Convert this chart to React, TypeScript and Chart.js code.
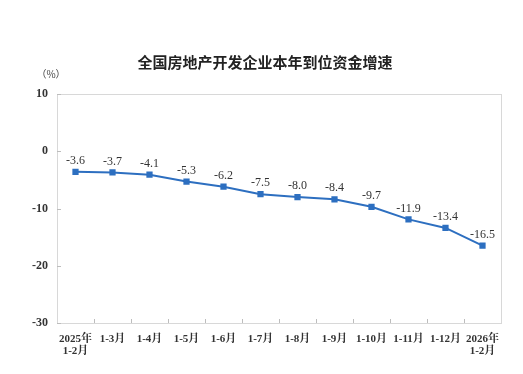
import React, { useEffect, useRef } from "react";
import { Chart, registerables } from "chart.js";

Chart.register(...registerables);

const categories: (string | string[])[] = [
  ["2025年", "1-2月"],
  "1-3月",
  "1-4月",
  "1-5月",
  "1-6月",
  "1-7月",
  "1-8月",
  "1-9月",
  "1-10月",
  "1-11月",
  "1-12月",
  ["2026年", "1-2月"],
];
const growth = [-3.6, -3.7, -4.1, -5.3, -6.2, -7.5, -8.0, -8.4, -9.7, -11.9, -13.4, -16.5];
const yTicks = [10, 0, -10, -20, -30];
const titleText = "全国房地产开发企业本年到位资金增速";
const unitText = "（%）";

const W = 523;
const H = 374;
const LINE = "#2d6fc0";
const SERIF = "'Liberation Serif', 'Noto Serif CJK SC', 'Noto Sans CJK SC', serif";

const decorPlugin = {
  id: "decor",
  afterDraw(chart: any) {
    const { ctx, chartArea: a, scales } = chart;
    ctx.save();
    // title
    ctx.fillStyle = "#222";
    ctx.font = "bold 15px 'Noto Sans CJK SC'";
    ctx.textAlign = "center";
    ctx.textBaseline = "middle";
    ctx.fillText(titleText, 265, 62);
    ctx.font = "10px 'Noto Sans CJK SC'";
    ctx.fillStyle = "#444";
    ctx.fillText(unitText, 51, 74);
    // frame
    ctx.strokeStyle = "#d8d8d8";
    ctx.lineWidth = 1;
    ctx.strokeRect(Math.round(a.left) + 0.5, Math.round(a.top) + 0.5, Math.round(a.right - a.left), Math.round(a.bottom - a.top));
    ctx.strokeStyle = "#bdbdbd";
    // y ticks (inward)
    const y = scales.y;
    for (const v of yTicks) {
      const py = Math.round(y.getPixelForValue(v)) + 0.5;
      ctx.beginPath();
      ctx.moveTo(a.left, py);
      ctx.lineTo(a.left + 4, py);
      ctx.stroke();
    }
    // x ticks (category boundaries, inward)
    const n = categories.length;
    const step = (a.right - a.left) / n;
    for (let i = 1; i < n; i++) {
      const px = Math.round(a.left + step * i) + 0.5;
      ctx.beginPath();
      ctx.moveTo(px, a.bottom);
      ctx.lineTo(px, a.bottom - 4);
      ctx.stroke();
    }
    // data labels
    const meta = chart.getDatasetMeta(0);
    ctx.fillStyle = "#333";
    ctx.font = "12px " + SERIF;
    ctx.textAlign = "center";
    ctx.textBaseline = "bottom";
    meta.data.forEach((pt: any, i: number) => {
      ctx.fillText(growth[i].toFixed(1), pt.x, pt.y - 5);
    });
    ctx.restore();
  },
};

export default function App() {
  const ref = useRef<HTMLCanvasElement | null>(null);
  useEffect(() => {
    document.body.style.margin = "0";
    const chart = new Chart(ref.current!, {
      type: "line",
      data: {
        labels: categories as any,
        datasets: [
          {
            data: growth,
            borderColor: LINE,
            backgroundColor: LINE,
            borderWidth: 2,
            pointStyle: "rect",
            pointRadius: 3,
            pointHoverRadius: 3,
            tension: 0,
          },
        ],
      },
      options: {
        animation: false,
        responsive: false,
        maintainAspectRatio: false,
        layout: { padding: { top: 94, right: 22, bottom: 0, left: 0 } },
        plugins: { legend: { display: false }, tooltip: { enabled: false }, title: { display: false } },
        scales: {
          x: {
            offset: true,
            grid: { display: false },
            border: { display: false },
            ticks: {
              color: "#333",
              font: { family: SERIF, size: 11, weight: "bold", lineHeight: 1.1 },
              padding: 2,
              maxRotation: 0,
              autoSkip: false,
            },
            afterFit(s: any) {
              s.height = 51;
            },
          },
          y: {
            min: -30,
            max: 10,
            grid: { display: false },
            border: { display: false },
            ticks: {
              stepSize: 10,
              color: "#333",
              font: { family: SERIF, size: 12, weight: "bold" },
              padding: 1,
            },
            afterFit(s: any) {
              s.width = 57;
            },
          },
        },
      },
      plugins: [decorPlugin],
    });
    return () => chart.destroy();
  }, []);
  return (
    <div style={{ width: W, height: H }}>
      <canvas ref={ref} width={W} height={H} style={{ display: "block" }} />
    </div>
  );
}
